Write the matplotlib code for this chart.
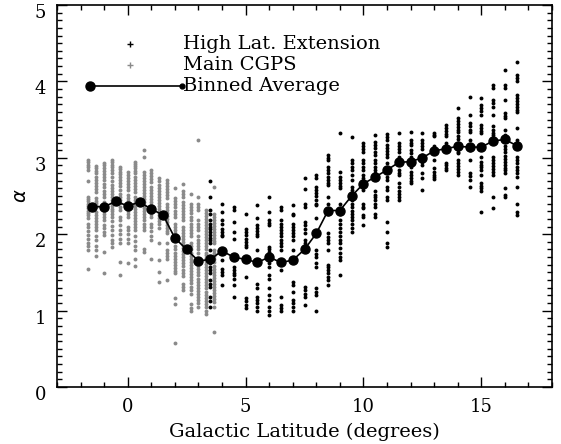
import numpy as np
import matplotlib.pyplot as plt
from matplotlib.ticker import MultipleLocator
from matplotlib.transforms import ScaledTranslation

# Main CGPS spectral indices, one list per latitude column
cgps_lat = [-1.67, -1.33, -1.0, -0.67, -0.33, 0.0, 0.33, 0.67, 1.0, 1.33,
            1.67, 2.0, 2.33, 2.67, 3.0, 3.33, 3.67]
cgps_alpha = [
    [2.97, 2.94, 2.91, 2.88, 2.84, 2.69, 2.49, 2.46, 2.43, 2.40, 2.37, 2.34, 2.31,
     2.28, 2.25, 2.21, 2.14, 2.09, 2.04, 1.99, 1.94, 1.89, 1.84, 1.79, 1.55],
    [2.89, 2.86, 2.83, 2.80, 2.75, 2.71, 2.67, 2.63, 2.59, 2.55, 2.47, 2.44, 2.41,
     2.38, 2.35, 2.29, 2.25, 2.21, 2.17, 2.13, 2.10, 2.05, 1.98, 1.92, 1.85, 1.79, 1.71],
    [2.93, 2.90, 2.87, 2.83, 2.79, 2.75, 2.71, 2.66, 2.62, 2.57, 2.53, 2.49, 2.42,
     2.38, 2.34, 2.30, 2.26, 2.22, 2.18, 2.12, 2.08, 2.03, 1.99, 1.77, 1.49],
    [2.97, 2.94, 2.91, 2.88, 2.84, 2.80, 2.75, 2.70, 2.65, 2.60, 2.56, 2.53, 2.49,
     2.45, 2.41, 2.37, 2.33, 2.30, 2.27, 2.23, 2.17, 2.11, 2.05, 1.99, 1.93, 1.88, 1.83],
    [2.88, 2.85, 2.82, 2.79, 2.75, 2.71, 2.67, 2.63, 2.58, 2.53, 2.49, 2.45, 2.41,
     2.36, 2.32, 2.23, 2.18, 2.12, 2.06, 2.00, 1.94, 1.88, 1.64, 1.46],
    [2.82, 2.78, 2.74, 2.70, 2.66, 2.62, 2.58, 2.51, 2.47, 2.43, 2.39, 2.35, 2.31,
     2.27, 2.23, 2.10, 2.05, 2.00, 1.94, 1.88, 1.62],
    [2.95, 2.92, 2.89, 2.86, 2.83, 2.80, 2.75, 2.71, 2.67, 2.63, 2.59, 2.55, 2.49,
     2.45, 2.41, 2.37, 2.33, 2.29, 2.25, 2.21, 2.17, 2.13, 2.09, 2.05, 1.97, 1.91,
     1.85, 1.79, 1.68, 1.58],
    [3.10, 3.01, 2.82, 2.78, 2.74, 2.70, 2.66, 2.62, 2.58, 2.54, 2.50, 2.46, 2.42,
     2.38, 2.34, 2.30, 2.26, 2.22, 2.18, 2.14, 2.10, 2.05, 1.80, 1.77],
    [2.84, 2.80, 2.76, 2.72, 2.68, 2.62, 2.58, 2.54, 2.50, 2.46, 2.42, 2.38, 2.34,
     2.30, 2.26, 2.23, 2.14, 2.09, 2.04, 1.97, 1.92, 1.68],
    [2.73, 2.69, 2.65, 2.61, 2.57, 2.53, 2.49, 2.45, 2.41, 2.37, 2.33, 2.29, 2.25,
     2.21, 2.17, 2.14, 2.08, 1.88, 1.66, 1.51, 1.38],
    [2.71, 2.67, 2.63, 2.59, 2.55, 2.51, 2.47, 2.40, 2.36, 2.32, 2.28, 2.24, 2.20,
     2.16, 2.12, 2.08, 2.04, 2.01, 1.88, 1.79, 1.75, 1.71, 1.68, 1.40],
    [2.60, 2.47, 2.43, 2.39, 2.35, 2.31, 2.27, 2.23, 2.14, 2.10, 2.05, 2.01, 1.97,
     1.84, 1.80, 1.76, 1.72, 1.68, 1.64, 1.60, 1.56, 1.52, 1.49, 1.16, 1.09, 0.57],
    [2.66, 2.56, 2.52, 2.49, 2.42, 2.38, 2.34, 2.30, 2.26, 2.22, 2.18, 2.10, 2.06,
     2.02, 1.98, 1.94, 1.90, 1.86, 1.82, 1.78, 1.74, 1.70, 1.66, 1.62, 1.58, 1.53,
     1.49, 1.45, 1.35, 1.31, 1.27],
    [2.53, 2.40, 2.36, 2.32, 2.28, 2.23, 2.18, 2.14, 2.10, 2.06, 2.02, 1.97, 1.88,
     1.84, 1.80, 1.76, 1.72, 1.68, 1.64, 1.60, 1.56, 1.52, 1.48, 1.44, 1.40, 1.36,
     1.31, 1.27, 1.22, 1.09, 1.04, 1.00],
    [3.23, 2.49, 2.40, 2.36, 2.32, 2.18, 2.14, 2.10, 2.05, 1.97, 1.93, 1.89, 1.85,
     1.80, 1.75, 1.66, 1.62, 1.58, 1.54, 1.50, 1.46, 1.42, 1.38, 1.34, 1.30, 1.26,
     1.22, 1.18, 1.14, 1.10, 1.05],
    [2.32, 2.28, 2.24, 2.20, 2.16, 2.12, 2.08, 2.04, 2.00, 1.96, 1.92, 1.88, 1.84,
     1.80, 1.75, 1.73, 1.69, 1.65, 1.61, 1.57, 1.53, 1.49, 1.45, 1.41, 1.37, 1.33,
     1.29, 1.25, 1.21, 1.17, 1.13, 1.09, 1.05, 1.00, 0.96],
    [2.62, 2.27, 2.23, 2.19, 2.15, 2.11, 2.07, 2.03, 1.99, 1.95, 1.91, 1.88, 1.79,
     1.75, 1.71, 1.67, 1.63, 1.59, 1.55, 1.51, 1.47, 1.43, 1.39, 1.35, 1.31, 1.27,
     1.23, 1.19, 1.15, 1.11, 1.05, 0.72],
]

# High latitude extension, one list per latitude column
ext_lat = [3.5, 4.0, 4.5, 5.0, 5.5, 6.0, 6.5, 7.0, 7.5, 8.0, 8.5, 9.0, 9.5, 10.0,
           10.5, 11.0, 11.5, 12.0, 12.5, 13.0, 13.5, 14.0, 14.5, 15.0, 15.5, 16.0, 16.5]
ext_alpha = [
    [2.70, 2.49, 2.32, 2.27, 2.18, 2.14, 2.10, 2.07, 2.03, 1.99, 1.95, 1.92, 1.88,
     1.79, 1.66, 1.62, 1.57, 1.53, 1.49, 1.40, 1.35, 1.31, 1.18, 1.12, 1.05],
    [2.40, 2.29, 2.18, 2.14, 2.07, 2.03, 1.99, 1.97, 1.81, 1.66, 1.55, 1.51, 1.46, 1.33],
    [2.36, 2.32, 2.16, 2.03, 1.94, 1.73, 1.57, 1.53, 1.49, 1.46, 1.42, 1.33, 1.18],
    [2.26, 2.07, 2.03, 1.99, 1.94, 1.90, 1.86, 1.83, 1.70, 1.66, 1.44, 1.16, 1.12,
     1.07, 1.03],
    [2.38, 2.21, 2.12, 2.08, 2.04, 2.00, 1.97, 1.79, 1.66, 1.62, 1.35, 1.29, 1.18,
     1.14, 1.10, 1.05, 1.00],
    [2.49, 2.29, 2.18, 2.15, 2.12, 1.83, 1.80, 1.77, 1.66, 1.62, 1.57, 1.46, 1.42,
     1.29, 1.20, 1.14, 1.05, 1.00, 0.94],
    [2.36, 2.32, 2.18, 2.14, 2.10, 2.05, 2.01, 1.97, 1.92, 1.88, 1.84, 1.79, 1.62,
     1.53, 1.18, 1.07, 1.03, 1.00],
    [2.38, 2.27, 2.25, 2.14, 2.10, 2.06, 2.01, 1.97, 1.92, 1.79, 1.66, 1.38, 1.33,
     1.25, 1.14, 1.10, 1.05, 1.00],
    [2.73, 2.59, 2.40, 2.36, 2.16, 2.12, 2.07, 2.01, 1.92, 1.88, 1.83, 1.31, 1.27,
     1.22, 1.18, 1.07],
    [2.77, 2.73, 2.62, 2.58, 2.54, 2.50, 2.45, 2.40, 2.38, 2.21, 1.79, 1.74, 1.70,
     1.62, 1.57, 1.29, 1.25, 1.20, 1.00],
    [3.04, 3.00, 2.97, 2.88, 2.84, 2.80, 2.75, 2.71, 2.67, 2.64, 2.49, 2.40, 2.32,
     2.27, 2.01, 1.96, 1.92, 1.88, 1.79, 1.60, 1.57, 1.53, 1.49, 1.44, 1.40, 1.33],
    [3.32, 2.82, 2.75, 2.71, 2.67, 2.63, 2.60, 2.40, 2.27, 2.18, 2.13, 2.08, 2.03,
     1.97, 1.92, 1.88, 1.82, 1.75, 1.70, 1.66, 1.46],
    [3.27, 2.97, 2.93, 2.88, 2.84, 2.77, 2.71, 2.62, 2.58, 2.53, 2.49, 2.45, 2.40,
     2.36, 2.31, 2.27, 2.22, 2.18, 2.13, 2.08, 2.03],
    [3.19, 3.15, 3.11, 3.08, 2.97, 2.93, 2.88, 2.84, 2.77, 2.73, 2.70, 2.67, 2.58,
     2.40, 2.36, 2.34, 2.25, 2.23, 2.12],
    [3.30, 3.21, 3.17, 3.13, 3.08, 3.04, 2.97, 2.93, 2.88, 2.84, 2.80, 2.75, 2.56,
     2.51, 2.49, 2.45, 2.40, 2.36, 2.27, 2.23],
    [3.31, 3.27, 3.23, 3.17, 3.13, 3.09, 3.05, 3.01, 2.93, 2.84, 2.75, 2.71, 2.62,
     2.58, 2.49, 2.45, 2.16, 2.03, 1.88, 1.83],
    [3.33, 3.19, 3.15, 3.11, 3.08, 3.01, 2.97, 2.84, 2.80, 2.77, 2.67, 2.62, 2.56,
     2.52, 2.49, 2.45],
    [3.34, 3.23, 3.20, 3.17, 3.10, 3.06, 3.01, 2.88, 2.82, 2.78, 2.74, 2.70, 2.67],
    [3.32, 3.23, 3.19, 3.15, 3.12, 3.04, 2.97, 2.94, 2.91, 2.80, 2.73, 2.58],
    [3.33, 3.30, 3.28, 3.15, 3.11, 3.06, 2.97, 2.86, 2.82, 2.78, 2.75, 2.72],
    [3.43, 3.39, 3.35, 3.31, 3.28, 3.19, 3.15, 3.10, 2.93, 2.90, 2.87, 2.84],
    [3.65, 3.52, 3.48, 3.44, 3.40, 3.36, 3.34, 3.28, 3.24, 3.20, 3.16, 3.12, 3.08,
     3.06, 2.97, 2.93, 2.89, 2.85, 2.81, 2.77],
    [3.80, 3.56, 3.45, 3.41, 3.37, 3.34, 3.23, 3.10, 2.97, 2.80, 2.76, 2.71, 2.62],
    [3.78, 3.69, 3.65, 3.61, 3.56, 3.43, 3.39, 3.35, 3.32, 3.17, 3.01, 2.95, 2.91,
     2.88, 2.84, 2.77, 2.67, 2.63, 2.60, 2.56, 2.29],
    [3.95, 3.91, 3.76, 3.72, 3.67, 3.56, 3.41, 3.37, 3.33, 3.30, 3.21, 3.01, 2.97,
     2.93, 2.89, 2.85, 2.81, 2.77, 2.49, 2.34],
    [4.15, 3.95, 3.91, 3.76, 3.58, 3.55, 3.52, 3.36, 3.30, 3.15, 3.11, 3.07, 3.03,
     2.99, 2.95, 2.91, 2.87, 2.84, 2.80, 2.60, 2.51, 2.49],
    [4.26, 4.09, 4.05, 4.00, 3.82, 3.78, 3.74, 3.70, 3.66, 3.62, 3.60, 3.39, 3.23,
     3.01, 2.97, 2.93, 2.88, 2.84, 2.80, 2.75, 2.62, 2.40, 2.29, 2.25],
]

# Binned average in 0.5 degree bins
bin_lat = [-1.5, -1.0, -0.5, 0.0, 0.5, 1.0, 1.5, 2.0, 2.5, 3.0, 3.5, 4.0, 4.5,
           5.0, 5.5, 6.0, 6.5, 7.0, 7.5, 8.0, 8.5, 9.0, 9.5, 10.0, 10.5, 11.0,
           11.5, 12.0, 12.5, 13.0, 13.5, 14.0, 14.5, 15.0, 15.5, 16.0, 16.5]
bin_alpha = [2.36, 2.36, 2.43, 2.37, 2.42, 2.33, 2.25, 1.95, 1.80, 1.65, 1.67,
             1.78, 1.70, 1.67, 1.63, 1.70, 1.63, 1.66, 1.80, 2.01, 2.31, 2.31,
             2.50, 2.66, 2.75, 2.84, 2.94, 2.95, 3.00, 3.09, 3.12, 3.15, 3.14,
             3.14, 3.22, 3.24, 3.16]

plt.rcParams['font.family'] = 'DejaVu Serif'
plt.rcParams['font.size'] = 14

fig = plt.figure(figsize=(5.61, 4.44), dpi=100)
ax = fig.add_axes([57 / 561, 1 - 387 / 444, 495 / 561, 382 / 444])

grey = '#8a8a8a'
cx = np.concatenate([[x] * len(a) for x, a in zip(cgps_lat, cgps_alpha)])
cy = np.concatenate(cgps_alpha)
ex = np.concatenate([[x] * len(a) for x, a in zip(ext_lat, ext_alpha)])
ey = np.concatenate(ext_alpha)

ax.plot(cx, cy, ls='none', marker='o', ms=2.8, mec='none', color=grey)
ax.plot(ex, ey, ls='none', marker='o', ms=2.8, mec='none', color='black')
ax.plot(bin_lat, bin_alpha, color='black', lw=1.2, marker='o', ms=6.5)

# legend drawn by hand, IDL style
tr = ax.transAxes
rows = [0.898, 0.843, 0.788]
ax.plot([0.148], [rows[0]], marker='+', ms=4, mew=1.0, color='black', transform=tr)
ax.plot([0.148], [rows[1]], marker='+', ms=4, mew=1.0, color=grey, transform=tr)
ax.plot([0.067, 0.253], [rows[2], rows[2]], color='black', lw=1.2, transform=tr)
ax.plot([0.067], [rows[2]], marker='o', ms=6.5, color='black', transform=tr)
ax.plot([0.253], [rows[2]], marker='o', ms=3.5, color='black', transform=tr)
for y, label in zip(rows, ['High Lat. Extension', 'Main CGPS', 'Binned Average']):
    ax.text(0.255, y, label, transform=tr, va='center', ha='left')

ax.set_xlim(-3, 18)
ax.set_ylim(0, 5)
ax.xaxis.set_major_locator(MultipleLocator(5))
ax.xaxis.set_minor_locator(MultipleLocator(1))
ax.yaxis.set_major_locator(MultipleLocator(1))
ax.yaxis.set_minor_locator(MultipleLocator(0.1))
ax.tick_params(which='both', direction='in', top=True, right=True, width=1.0,
               labelsize=13)
ax.tick_params(which='major', length=7, pad=8)
ax.tick_params(which='minor', length=3.5)
for s in ax.spines.values():
    s.set_linewidth(1.2)

# y labels sit a little below their ticks
shift = ScaledTranslation(0, -6 / 100, fig.dpi_scale_trans)
for t in ax.yaxis.get_major_ticks():
    t.label1.set_transform(t.label1.get_transform() + shift)

ax.set_xlabel('Galactic Latitude (degrees)', labelpad=5)
ax.set_ylabel(r'$\alpha$', labelpad=3, rotation=90)

fig.savefig('out.png', dpi=100)
